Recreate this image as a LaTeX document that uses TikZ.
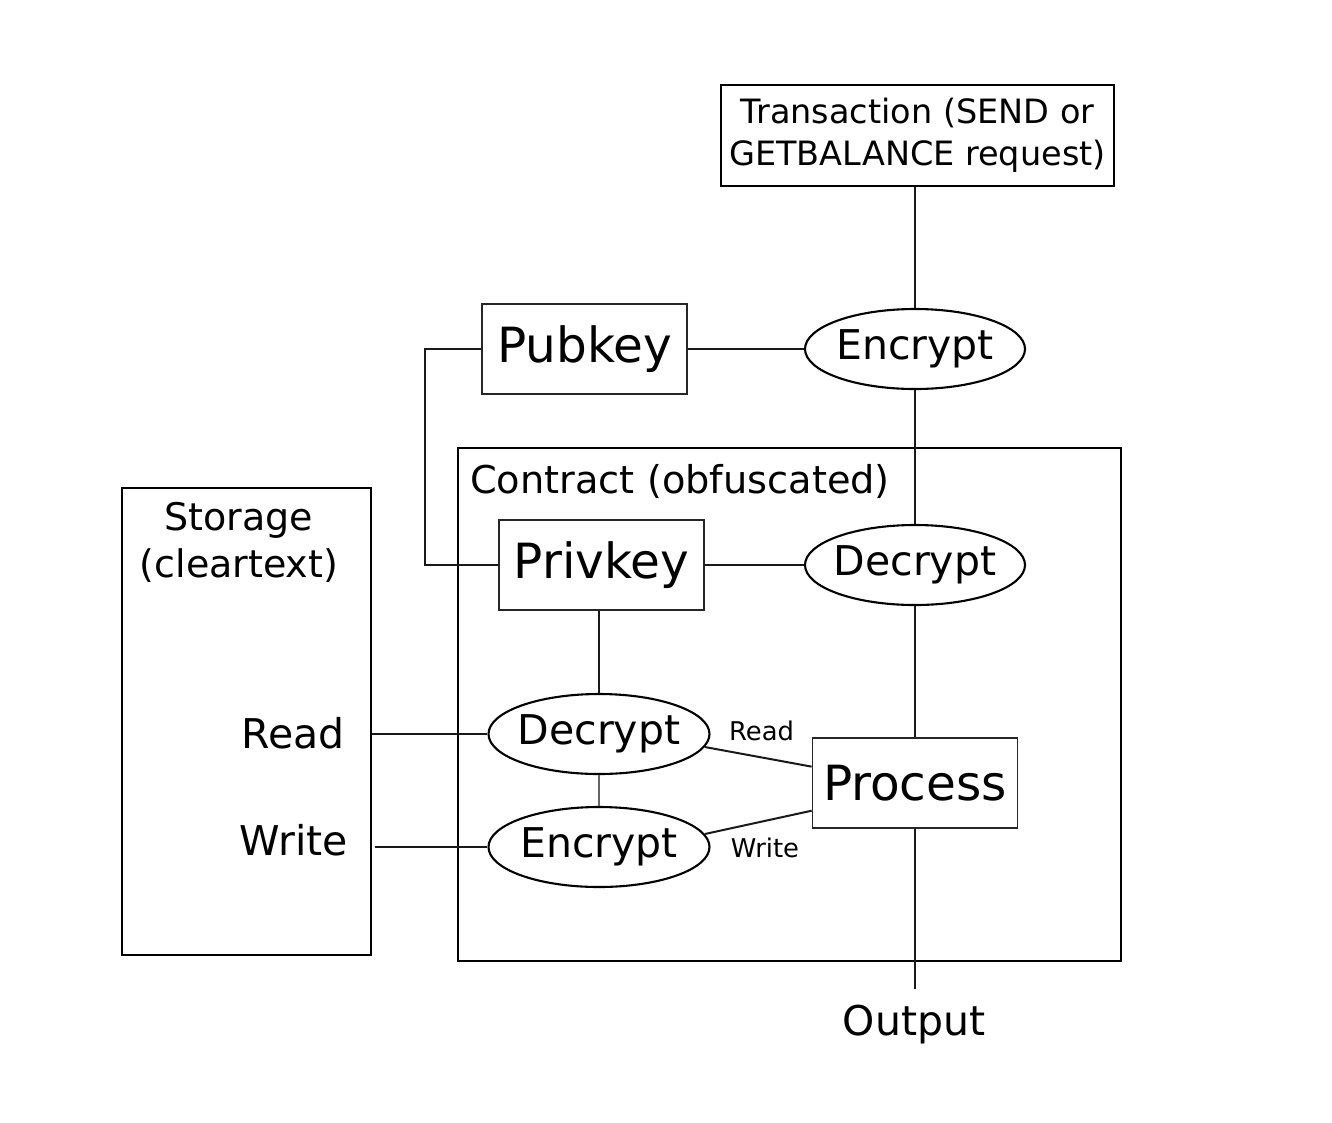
\documentclass[tikz,border=0pt]{standalone}
\usepackage{fontspec}
\setmainfont{DejaVu Sans}
\usetikzlibrary{shapes.geometric}
\newcommand\ctext[1]{\makebox[120pt]{#1}}
\begin{document}
\begin{tikzpicture}[x=1pt,y=-1pt,
  keybox/.style={draw=black!85, line width=1.8pt, rectangle, minimum width=205pt, minimum height=90pt, inner sep=0pt, font=\fontsize{48.5}{58}\selectfont},
  crypt/.style={draw=black, line width=2.1pt, ellipse, minimum width=220pt, minimum height=80pt, inner sep=0pt, font=\fontsize{41}{49}\selectfont},
  bigbox/.style={draw=black, line width=2.1pt, rectangle, inner sep=0pt},
  conn/.style={line width=2pt, draw=black!90},
  big/.style={font=\fontsize{41}{49}\selectfont, inner sep=0pt},
  small/.style={font=\fontsize{25.8}{31}\selectfont, inner sep=0pt}]
\useasboundingbox (0,0) rectangle (1332,1122);
% outer boxes
\node[bigbox, minimum width=249pt, minimum height=467pt] (stor) at (246.5,721.5) {};
\node[bigbox, minimum width=663pt, minimum height=513pt] (contract) at (789.5,704.5) {};
\node[anchor=north, align=center, inner sep=0pt, font=\fontsize{38}{47}\selectfont] (storlabel) at (239,502) {Storage\\(cleartext)};
\node[anchor=base west, inner sep=0pt, font=\fontsize{38.3}{46}\selectfont] (contractlabel) at (470,493) {Contract (obfuscated)};
% transaction
\node[bigbox, line width=1.9pt, minimum width=393pt, minimum height=101pt, align=center, font=\fontsize{33.5}{42}\selectfont] (tx) at (917.5,135.5) {Transaction (SEND or\\GETBALANCE request)};
% keys
\node[keybox] (pub) at (584.5,349) {Pubkey};
\node[keybox] (priv) at (601.5,565) {Privkey};
\node[keybox] (proc) at (915,783) {Process};
% crypt ellipses
\node[crypt] (enc1) at (915,349) {\ctext{Encrypt}};
\node[crypt] (dec1) at (915,565) {\ctext{Decrypt}};
\node[crypt, minimum width=221pt] (dec2) at (599,734) {\ctext{Decrypt}};
\node[crypt, minimum width=221pt] (enc2) at (599,847) {\ctext{Encrypt}};
% storage texts
\node[big, anchor=base east] (rd) at (345,748) {Read};
\node[big, anchor=base east] (wr) at (348,855) {Write};
\node[small, anchor=base] (rdl) at (761.5,740) {Read};
\node[small, anchor=base] (wrl) at (765,857) {Write};
\node[big, anchor=base] (out) at (914,1035) {Output};
% connectors
\draw[conn] (enc1.north |- tx.south) -- (enc1.north);
\draw[conn] (enc1.south) -- (dec1.north);
\draw[conn] (dec1.south) -- (proc.north);
\draw[conn] (proc.south) -- ([yshift=15pt]proc.south |- out.north);
\draw[conn] (pub.east) -- (enc1.west);
\draw[conn] (priv.east) -- (dec1.west);
\draw[conn] (pub.west) -- ++(-56,0) |- (priv.west);
\draw[conn] (dec2.north |- priv.south) -- (dec2.north);
\draw[line width=1.5pt, draw=black!60] (dec2.south) -- (enc2.north);
\draw[conn] (stor.east |- dec2.west) -- (dec2.west);
\draw[conn] ([xshift=3pt]stor.east |- enc2.west) -- (enc2.west);
\draw[conn] (dec2.-7) -- (proc.171);
\draw[conn] (enc2.7) -- (proc.195);
\end{tikzpicture}
\end{document}
